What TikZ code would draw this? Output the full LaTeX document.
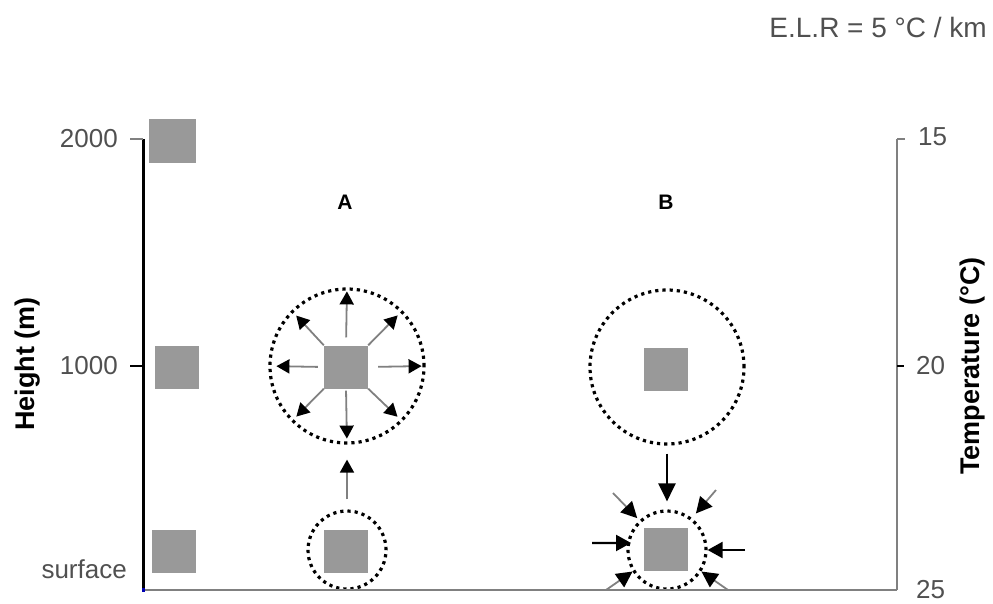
\documentclass[tikz,border=0pt]{standalone}
\usepackage{fontspec}
\setmainfont{Liberation Sans}
\usetikzlibrary{arrows.meta}
\definecolor{boxgray}{RGB}{153,153,153}
\definecolor{axgray}{RGB}{128,128,128}
\definecolor{txtgray}{RGB}{80,80,80}
\begin{document}
\begin{tikzpicture}[x=1pt,y=-1pt,
  parcel/.style={fill=boxgray, draw=none, minimum width=44pt, minimum height=43pt, inner sep=0pt},
  bigbound/.style={circle, draw=black, line width=3.2pt, dash pattern=on 3.2pt off 4pt, inner sep=0pt, minimum size=154pt},
  smbound/.style={circle, draw=black, line width=3.2pt, dash pattern=on 3.2pt off 4pt, inner sep=0pt, minimum size=78pt},
  outarr/.style={draw=axgray, line width=1.8pt, -{Triangle[color=black,fill=black,length=13pt,width=14pt]}},
  inarr/.style={draw=axgray, line width=1.8pt, -{Triangle[color=black,fill=black,length=16pt,width=16pt]}},
  sidearr/.style={draw=black, line width=2.2pt, -{Triangle[length=15pt,width=16pt]}},
  blkarr/.style={draw=black, line width=2.6pt, -{Triangle[length=18pt,width=17pt]}},
  numlab/.style={font=\fontsize{26}{30}\selectfont, text=txtgray, inner sep=0pt},
  axlab/.style={font=\bfseries\fontsize{27}{32}\selectfont, rotate=90, inner sep=0pt},
  caselab/.style={font=\bfseries\fontsize{21}{24}\selectfont, inner sep=0pt}
]
\useasboundingbox (0,0) rectangle (993,603);

% axes
\draw[line width=3pt] (143,139) -- (143,590);
\draw[axgray, line width=2pt] (130,139) -- (143,139);
\draw[black, line width=2pt] (130,366) -- (143,366);
\draw[axgray, line width=2pt] (897,139) -- (897,590);
\draw[axgray, line width=2pt] (897,139) -- (905,139);
\draw[black, line width=2pt] (897,366) -- (904,366);

% axis labels
\node[numlab, anchor=east] (l2000) at (118,139) {2000};
\node[numlab, anchor=east] (l1000) at (118,366) {1000};
\node[numlab, anchor=east] (lsurf) at (127,569) {surface};
\node[numlab, anchor=west] (l15) at (918,137) {15};
\node[numlab, anchor=west] (l20) at (916,366) {20};
\node[numlab, anchor=west] (l25) at (916,590) {25};
\node[axlab] (hlab) at (28,364) {Height (m)};
\node[axlab] (tlab) at (973,366) {Temperature (°C)};
\node[font=\fontsize{28}{32}\selectfont, text=txtgray, inner sep=0pt, anchor=east] (elr) at (987,27) {E.L.R = 5 °C / km};

% reference parcels on the height axis
\node[parcel, minimum width=47pt, minimum height=44pt] (p2000) at (172,141) {};
\node[parcel] (p1000) at (177,367) {};
\node[parcel] (psurf) at (174,551) {};

% case labels
\node[caselab] (labA) at (345,202) {A};
\node[caselab] (labB) at (666,202) {B};

% case A
\node[bigbound] (bigA) at (347,366) {};
\node[parcel] (sqA) at (346,367) {};
\node[smbound] (smA) at (347,550) {};
\node[parcel] (smsqA) at (346,551) {};

\draw[outarr, shorten <=8pt, shorten >=4pt] (sqA.north) -- (bigA.north);
\draw[outarr, shorten <=2pt, shorten >=6pt] (sqA.south) -- (bigA.south);
\draw[outarr, shorten <=10pt, shorten >=4pt] (sqA.east) -- (bigA.east);
\draw[outarr, shorten <=6pt, shorten >=8pt] (sqA.west) -- (bigA.west);
\draw[outarr, shorten >=7pt] (sqA.north east) -- (bigA.45);
\draw[outarr, shorten >=7pt] (sqA.north west) -- (bigA.135);
\draw[outarr, shorten >=7pt] (sqA.south east) -- (bigA.-45);
\draw[outarr, shorten >=7pt] (sqA.south west) -- (bigA.-135);
\draw[outarr, shorten <=10pt, shorten >=15pt] (smA.north) -- (bigA.south);

% case B
\node[bigbound] (bigB) at (667,367) {};
\node[parcel] (sqB) at (666,369) {};
\node[smbound] (smB) at (667,550) {};
\node[parcel] (smsqB) at (666,549) {};

\draw[blkarr, shorten <=8pt, shorten >=8pt] (bigB.south) -- (smB.north);

\coordinate (tL) at (592,543);
\coordinate (tR) at (745,550);
\coordinate (tTL) at (613,493);
\coordinate (tTR) at (716,490);
\coordinate (tBL) at (606,590);
\coordinate (tBR) at (728,590);
\draw[sidearr, shorten >=-4pt] (tL) -- (smB.170);
\draw[sidearr] (tR) -- (smB.east);
\draw[inarr, shorten >=3pt] (tTL) -- (smB.133);
\draw[inarr, shorten >=6pt] (tTR) -- (smB.52);
\draw[inarr] (tBL) -- (smB.212);
\draw[inarr] (tBR) -- (smB.328);

% ground line
\draw[axgray, line width=2pt] (143,590) -- (897,590);
\fill[blue!70!black] (141.5,587.5) rectangle (145,592);
\end{tikzpicture}
\end{document}
